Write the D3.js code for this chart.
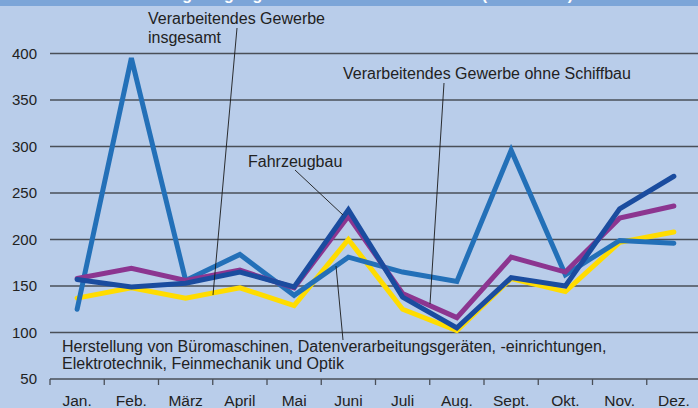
<!DOCTYPE html>
<html>
<head>
<meta charset="utf-8">
<script src="https://cdn.jsdelivr.net/npm/d3@7"></script>
<style>
	body { margin: 0; background: #b9cdea; }
	svg { display: block; font-family: "Liberation Sans", Arial, sans-serif; }
</style>
</head>
<body>
<script>

// Chart data
var months = ["Jan.", "Feb.", "März", "April", "Mai", "Juni", "Juli", "Aug.", "Sept.", "Okt.", "Nov.", "Dez."];
var yTicks = [50, 100, 150, 200, 250, 300, 350, 400];

var bueroValues = [137, 148, 137, 148, 129, 200, 125, 102, 158, 144, 197, 208];
var insgesamtValues = [125, 395, 156, 184, 140, 181, 165, 155, 296, 162, 199, 196];
var ohneSchiffbauValues = [158, 169, 156, 167, 148, 225, 142, 116, 181, 165, 223, 236];
var fahrzeugValues = [157, 149, 153, 165, 149, 232, 138, 105, 159, 150, 233, 268];

var seriesNames = ["Büromaschinen", "Insgesamt", "Ohne Schiffbau", "Fahrzeugbau"];
var seriesValues = [bueroValues, insgesamtValues, ohneSchiffbauValues, fahrzeugValues];
var seriesColors = ["#ffdc00", "#2370b8", "#8c3590", "#1a4c9f"];

var titleText = "Auftragseingang im Verarbeitenden Gewerbe (2000 = 100)";

// SVG Size
var width = 698,
	height = 408;

var svg = d3.select("body").append("svg")
	.attr("width", width)
	.attr("height", height);

// title band at the top, the text is mostly cut off
svg.append("rect")
	.attr("x", 0).attr("y", 0)
	.attr("width", width).attr("height", 6)
	.attr("fill", "#7ca5d8");

svg.append("text")
	.attr("x", 354)
	.attr("y", 0)
	.attr("text-anchor", "middle")
	.attr("fill", "white")
	.attr("font-weight", "bold")
	.attr("font-size", 16)
	.text(titleText);

// scales
var x = d3.scaleBand()
	.domain(months)
	.range([50, 701]);

var y = d3.scaleLinear()
	.domain([50, 400])
	.range([379, 53.5]);

// grid lines
svg.append("g")
	.selectAll("line")
	.data(yTicks)
	.enter()
	.append("line")
	.attr("x1", 50)
	.attr("x2", width)
	.attr("y1", function(d) { return y(d); })
	.attr("y2", function(d) { return y(d); })
	.attr("stroke", "#4a4f58")
	.attr("stroke-width", 1.3);

// y axis labels
var yAxis = d3.axisLeft(y).tickValues(yTicks).tickSize(0).tickPadding(13);
var yg = svg.append("g")
	.attr("transform", "translate(50,0)")
	.call(yAxis);
yg.select(".domain").remove();
yg.selectAll("text")
	.attr("font-size", 15)
	.attr("font-family", "Liberation Sans, Arial, sans-serif")
	.attr("fill", "#222");

// x axis: ticks on band boundaries, labels centered
var boundaries = months.map(function(m) { return x(m); });
svg.append("g")
	.selectAll("line")
	.data(boundaries)
	.enter()
	.append("line")
	.attr("x1", function(d) { return d; })
	.attr("x2", function(d) { return d; })
	.attr("y1", y(50))
	.attr("y2", y(50) + 6)
	.attr("stroke", "#4a4f58")
	.attr("stroke-width", 1.3);

svg.append("g")
	.selectAll("text")
	.data(months)
	.enter()
	.append("text")
	.attr("x", function(d) { return x(d) + x.bandwidth() / 2; })
	.attr("y", 406)
	.attr("text-anchor", "middle")
	.attr("font-size", 15.5)
	.attr("fill", "#222")
	.text(function(d) { return d; });

// lines
var line = d3.line()
	.x(function(d, i) { return x(months[i]) + x.bandwidth() / 2; })
	.y(function(d) { return y(d); });

svg.append("g")
	.selectAll("path")
	.data(seriesValues)
	.enter()
	.append("path")
	.attr("d", line)
	.attr("fill", "none")
	.attr("stroke", function(d, i) { return seriesColors[i]; })
	.attr("stroke-width", 5)
	.attr("stroke-linejoin", "miter")
	.attr("stroke-linecap", "round");

// annotations with leader lines
var leaders = [
	[237, 28, 213, 295],
	[444, 83, 430, 304],
	[295, 170, 343, 215],
	[343, 340, 336, 266]
];

svg.append("g")
	.selectAll("line")
	.data(leaders)
	.enter()
	.append("line")
	.attr("x1", function(d) { return d[0]; })
	.attr("y1", function(d) { return d[1]; })
	.attr("x2", function(d) { return d[2]; })
	.attr("y2", function(d) { return d[3]; })
	.attr("stroke", "#1a1a1a")
	.attr("stroke-width", 0.9);

var labels = [
	{x: 148, y: 24, t: "Verarbeitendes Gewerbe"},
	{x: 148, y: 43, t: "insgesamt"},
	{x: 343, y: 79, t: "Verarbeitendes Gewerbe ohne Schiffbau"},
	{x: 248, y: 167, t: "Fahrzeugbau"},
	{x: 62, y: 352, t: "Herstellung von Büromaschinen, Datenverarbeitungsgeräten, -einrichtungen,"},
	{x: 62, y: 369, t: "Elektrotechnik, Feinmechanik und Optik"}
];

svg.append("g")
	.selectAll("text")
	.data(labels)
	.enter()
	.append("text")
	.attr("x", function(d) { return d.x; })
	.attr("y", function(d) { return d.y; })
	.attr("font-size", 16)
	.attr("fill", "#222")
	.text(function(d) { return d.t; });

</script>
</body>
</html>
